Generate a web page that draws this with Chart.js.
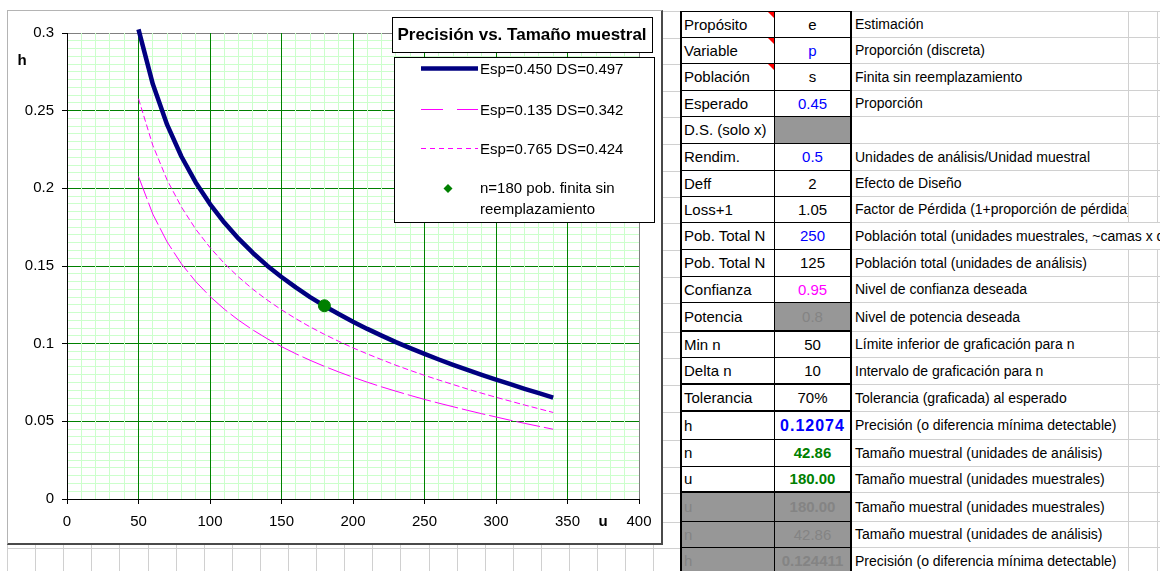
<!DOCTYPE html>
<html lang="es">
<head>
<meta charset="utf-8">
<title>Precisión vs. Tamaño muestral</title>
<script src="https://cdn.jsdelivr.net/npm/chart.js@4.4.1/dist/chart.umd.min.js"></script>
<style>
html, body { margin: 0; padding: 0; }
body { position: relative; width: 1160px; height: 571px; overflow: hidden; background: #fff;
  font-family: "Liberation Sans", Arial, sans-serif; color: #000; }
.cell { position: absolute; box-sizing: border-box; white-space: nowrap; overflow: hidden; font-size: 15px; }
#frame { position: absolute; left: 7px; top: 10px; width: 656px; height: 535px; box-sizing: border-box; background: #fff;
  border-left: 1px solid #b4b4b4; border-top: 1px solid #b4b4b4; border-right: 2px solid #4a4a4a; border-bottom: 2px solid #4a4a4a; }
#chart { display: block; }
</style>
</head>
<body>
<div id="sheet"></div>
<div id="frame"><canvas id="chart" width="653" height="532"></canvas></div>
<script>
// sample size u (unidades muestrales) and precision h for each expected value
const sampleSizes = [50, 60, 70, 80, 90, 100, 110, 120, 130, 140, 150, 160, 170, 180, 190,
  200, 210, 220, 230, 240, 250, 260, 270, 280, 290, 300, 310, 320, 330, 340];
const hEsp450 = [0.3023, 0.2671, 0.2410, 0.2205, 0.2038, 0.1899, 0.1780, 0.1676, 0.1584, 0.1502,
  0.1429, 0.1362, 0.1300, 0.1243, 0.1191, 0.1141, 0.1095, 0.1052, 0.1010, 0.0971,
  0.0934, 0.0898, 0.0864, 0.0831, 0.0799, 0.0769, 0.0739, 0.0709, 0.0681, 0.0653];
const hEsp135 = [0.2076, 0.1834, 0.1655, 0.1514, 0.1400, 0.1304, 0.1222, 0.1151, 0.1088, 0.1032,
  0.0981, 0.0935, 0.0893, 0.0854, 0.0818, 0.0784, 0.0752, 0.0722, 0.0694, 0.0667,
  0.0641, 0.0617, 0.0594, 0.0571, 0.0549, 0.0528, 0.0507, 0.0487, 0.0468, 0.0449];
const hEsp765 = [0.2577, 0.2277, 0.2054, 0.1880, 0.1737, 0.1619, 0.1517, 0.1429, 0.1350, 0.1281,
  0.1218, 0.1161, 0.1108, 0.1060, 0.1015, 0.0973, 0.0934, 0.0897, 0.0861, 0.0828,
  0.0796, 0.0766, 0.0737, 0.0708, 0.0681, 0.0655, 0.0630, 0.0605, 0.0581, 0.0557];
const pointU = [180];
const pointH = [0.124411];

const seriesLabels = ['Esp=0.450 DS=0.497', 'Esp=0.135 DS=0.342', 'Esp=0.765 DS=0.424'];
const pointLabel = ['n=180 pob. finita sin', 'reemplazamiento'];
const chartTitle = 'Precisión vs. Tamaño muestral';
const uTickLabels = ['0', '50', '100', '150', '200', '250', '300', '350', '400'];
const hTickLabels = ['0', '0.05', '0.1', '0.15', '0.2', '0.25', '0.3'];

// parameter sheet next to the chart
const paramNames = ['Propósito', 'Variable', 'Población', 'Esperado', 'D.S. (solo x)', 'Rendim.', 'Deff',
  'Loss+1', 'Pob. Total N', 'Pob. Total N', 'Confianza', 'Potencia', 'Min n', 'Delta n', 'Tolerancia',
  'h', 'n', 'u', 'u', 'n', 'h'];
const paramValues = ['e', 'p', 's', '0.45', '', '0.5', '2', '1.05', '250', '125', '0.95', '0.8', '50', '10',
  '70%', '0.12074', '42.86', '180.00', '180.00', '42.86', '0.124411'];
const paramNotes = ['Estimación', 'Proporción (discreta)', 'Finita sin reemplazamiento', 'Proporción', '',
  'Unidades de análisis/Unidad muestral', 'Efecto de Diseño', 'Factor de Pérdida (1+proporción de pérdida)',
  'Población total (unidades muestrales, ~camas x d', 'Población total (unidades de análisis)',
  'Nivel de confianza deseada', 'Nivel de potencia deseada', 'Límite inferior de graficación para n',
  'Intervalo de graficación para n', 'Tolerancia (graficada) al esperado',
  'Precisión (o diferencia mínima detectable)', 'Tamaño muestral (unidades de análisis)',
  'Tamaño muestral (unidades muestrales)', 'Tamaño muestral (unidades muestrales)',
  'Tamaño muestral (unidades de análisis)', 'Precisión (o diferencia mínima detectable)'];

const rowTops = [11, 38, 64, 91, 117, 144, 171, 197, 223, 250, 277, 303, 332, 358, 385, 412, 440, 467, 493, 522, 548, 575];
const thickRows = [11, 13, 14, 17];
const greyLabelRows = [18, 19, 20];
const greyValueRows = [4, 11, 18, 19, 20];
const commentRows = [0, 1, 2];
const BLUE = '#0000ff', MAGENTA = '#ff00ff', GREEN = '#008000', GREY_FILL = '#979797', GREY_TEXT = '#848484';
const valueStyles = {
  1: {color: BLUE}, 3: {color: BLUE}, 5: {color: BLUE}, 8: {color: BLUE}, 10: {color: MAGENTA},
  11: {color: GREY_TEXT},
  15: {color: BLUE, fontWeight: 'bold', fontSize: '16px', letterSpacing: '1px'},
  16: {color: GREEN, fontWeight: 'bold'}, 17: {color: GREEN, fontWeight: 'bold'},
  18: {color: GREY_TEXT, fontWeight: 'bold'}, 19: {color: GREY_TEXT}, 20: {color: GREY_TEXT, fontWeight: 'bold'}
};
const GRIDLINE = '#d0d0d0';

const sheet = document.getElementById('sheet');
function box(left, top, width, height, css, text) {
  const d = document.createElement('div');
  d.className = 'cell';
  Object.assign(d.style, {left: left + 'px', top: top + 'px', width: width + 'px', height: height + 'px'}, css || {});
  if (text) d.textContent = text;
  sheet.appendChild(d);
  return d;
}

// worksheet gridlines around the chart object
for (let j = 0; j < 24; j++) box(Math.round(7 + 28.1 * j), 11, 1, 560, {background: GRIDLINE});
rowTops.forEach(t => box(7, t, 673, 1, {background: GRIDLINE}));

paramNames.forEach((name, i) => {
  const top = rowTops[i];
  const h = rowTops[i + 1] - top;
  const bw = thickRows.includes(i) ? 2 : 1;
  const tb = i === 0 ? 1 : 0;
  const lh = (h - bw - tb) + 'px';
  box(680, top, 95, h, {
    borderLeft: '2px solid #000', borderRight: '1px solid #000', borderBottom: bw + 'px solid #000',
    borderTop: tb + 'px solid #000', background: greyLabelRows.includes(i) ? GREY_FILL : '#fff',
    color: greyLabelRows.includes(i) ? GREY_TEXT : '#000', lineHeight: lh, paddingLeft: '2px'
  }, name);
  if (commentRows.includes(i)) {
    box(768, top + tb, 6, 6, {width: '0', height: '0', borderTop: '6px solid #ff0000', borderLeft: '6px solid transparent'});
  }
  box(775, top, 77, h, Object.assign({
    borderRight: '2px solid #000', borderBottom: bw + 'px solid #000', borderTop: tb + 'px solid #000',
    background: greyValueRows.includes(i) ? GREY_FILL : '#fff', lineHeight: lh, textAlign: 'center'
  }, valueStyles[i] || {}), paramValues[i]);
  const overflow = i === 8;
  box(852, top, overflow ? 308 : 277, h, {
    borderRight: overflow ? 'none' : '1px solid ' + GRIDLINE, borderBottom: '1px solid ' + GRIDLINE,
    borderTop: tb + 'px solid ' + GRIDLINE, background: '#fff', lineHeight: (h - 1 - tb) + 'px',
    fontSize: '14px', paddingLeft: '3px'
  }, paramNotes[i]);
  if (!overflow) {
    box(1129, top, 29, h, {borderRight: '1px solid ' + GRIDLINE, borderBottom: '1px solid ' + GRIDLINE, borderTop: tb + 'px solid ' + GRIDLINE});
    box(1158, top, 10, h, {borderBottom: '1px solid ' + GRIDLINE, borderTop: tb + 'px solid ' + GRIDLINE});
  }
});

// chart
const fontStack = '"Liberation Sans", Arial, sans-serif';
Chart.defaults.font.family = fontStack;
Chart.defaults.font.size = 15;
Chart.defaults.color = '#000';

const toPoints = (xs, ys) => xs.map((x, i) => ({x: x, y: ys[i]}));
const isMajorU = v => Math.round(v) % 50 === 0;
const isMajorH = v => Math.round(v * 1000) % 50 === 0;
const legendDash = [[], [22, 14], [5, 4]];

const sheetLegend = {
  id: 'sheetLegend',
  afterDraw(chart) {
    const c = chart.ctx;
    c.save();
    c.lineWidth = 1;
    c.strokeStyle = '#000';
    c.fillStyle = '#fff';
    c.fillRect(384.5, 6.5, 260, 35);
    c.strokeRect(384.5, 6.5, 260, 35);
    c.fillStyle = '#000';
    c.font = 'bold 17px ' + fontStack;
    c.textAlign = 'center';
    c.textBaseline = 'middle';
    c.fillText(chartTitle, 514, 24);

    c.fillStyle = '#fff';
    c.fillRect(386.5, 46.5, 260, 165);
    c.strokeRect(386.5, 46.5, 260, 165);

    c.font = '15px ' + fontStack;
    c.textAlign = 'left';
    const rowsY = [57.5, 98.5, 137.5];
    chart.data.datasets.forEach((ds, i) => {
      if (i < 3) {
        const y = rowsY[i];
        c.strokeStyle = ds.borderColor;
        c.lineWidth = ds.borderWidth;
        c.setLineDash(legendDash[i]);
        c.beginPath();
        c.moveTo(413, y);
        c.lineTo(470, y);
        c.stroke();
        c.setLineDash([]);
        c.fillStyle = '#000';
        c.fillText(ds.label, 472, y + 1);
      } else {
        c.fillStyle = ds.backgroundColor;
        c.beginPath();
        c.moveTo(440, 173);
        c.lineTo(444.5, 177.5);
        c.lineTo(440, 182);
        c.lineTo(435.5, 177.5);
        c.closePath();
        c.fill();
        c.fillStyle = '#000';
        c.fillText(ds.label[0], 472, 178);
        c.fillText(ds.label[1], 472, 199);
      }
    });

    c.font = 'bold 15px ' + fontStack;
    c.textAlign = 'center';
    c.fillText('h', 14, 50);
    c.fillText('u', 595, 511);
    c.restore();
  }
};

new Chart(document.getElementById('chart').getContext('2d'), {
  type: 'scatter',
  data: {
    datasets: [
      {label: seriesLabels[0], data: toPoints(sampleSizes, hEsp450), showLine: true, borderColor: '#000080',
        borderWidth: 4.5, borderJoinStyle: 'round', pointRadius: 0, clip: false, order: 1},
      {label: seriesLabels[1], data: toPoints(sampleSizes, hEsp135), showLine: true, borderColor: MAGENTA,
        borderWidth: 1, borderDash: [24, 4], pointRadius: 0, order: 2},
      {label: seriesLabels[2], data: toPoints(sampleSizes, hEsp765), showLine: true, borderColor: MAGENTA,
        borderWidth: 1, borderDash: [6, 3], pointRadius: 0, order: 3},
      {label: pointLabel, data: toPoints(pointU, pointH), backgroundColor: GREEN, borderColor: GREEN,
        pointRadius: 6, pointStyle: 'circle', order: 0}
    ]
  },
  options: {
    responsive: false,
    animation: false,
    events: [],
    layout: {padding: {top: 22, right: 22, bottom: 0, left: 0}},
    plugins: {legend: {display: false}, tooltip: {enabled: false}},
    scales: {
      x: {
        type: 'linear', min: 0, max: 400,
        afterFit: s => { s.height = 44; },
        border: {color: '#000', width: 1},
        grid: {
          z: 0,
          color: c => c.tick.value === 0 ? '#000' : c.tick.value === 400 ? '#808080' : isMajorU(c.tick.value) ? '#008000' : '#ccffcc',
          tickLength: 5,
          tickColor: c => isMajorU(c.tick.value) ? '#000' : 'rgba(0,0,0,0)'
        },
        ticks: {
          stepSize: 10, autoSkip: false, maxRotation: 0, minRotation: 0, padding: 9,
          callback: v => isMajorU(v) ? uTickLabels[Math.round(v / 50)] : ''
        }
      },
      y: {
        type: 'linear', min: 0, max: 0.3,
        afterFit: s => { s.width = 59; },
        border: {color: '#000', width: 1},
        grid: {
          z: -1,
          color: c => {
            const k = Math.round(c.tick.value * 1000);
            if (k === 0) return '#000';
            if (k === 300) return '#808080';
            return isMajorH(c.tick.value) ? '#008000' : '#ccffcc';
          },
          tickLength: 5,
          tickColor: c => isMajorH(c.tick.value) ? '#000' : 'rgba(0,0,0,0)'
        },
        ticks: {
          stepSize: 0.005, autoSkip: false, padding: 8,
          callback: v => isMajorH(v) ? hTickLabels[Math.round(v / 0.05)] : ''
        }
      }
    }
  },
  plugins: [sheetLegend]
});
</script>
</body>
</html>
